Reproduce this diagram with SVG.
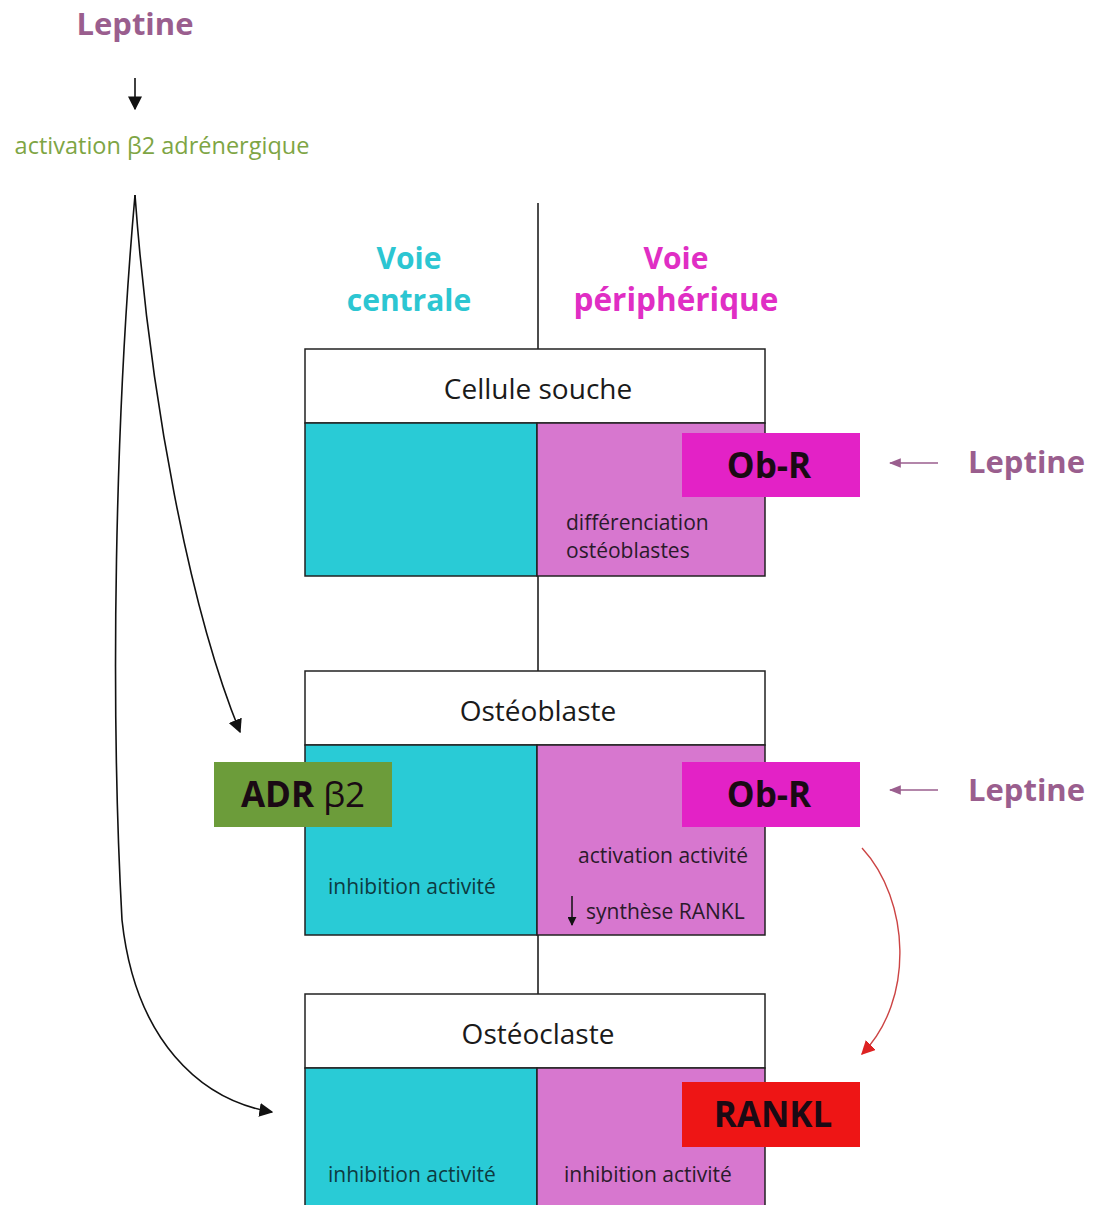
<svg xmlns="http://www.w3.org/2000/svg" width="1094" height="1205" viewBox="0 0 1094 1205">
<style>
text{font-family:"Open Sans","Noto Sans","Liberation Sans",sans-serif}
.hdr{fill:#fff;stroke:#222;stroke-width:1.5}
.cy{fill:#29cbd6;stroke:#222;stroke-width:1.5}
.pk{fill:#d777cf;stroke:#222;stroke-width:1.5}
.lbl{font-size:28px;fill:#1a1a1a;text-anchor:middle}
.sm{font-size:21px;fill:#2a1a2a}
.smc{font-size:21px;fill:#0d3a40}
.tag{font-size:35px;font-weight:bold;fill:#1a0a14;text-anchor:middle}
.lep{font-size:31px;font-weight:bold;fill:#9a5e8e}
.conn{fill:none;stroke:#111;stroke-width:1.6}
</style>
<defs>
<marker id="ah" viewBox="0 0 10 10" refX="9" refY="5" markerWidth="9" markerHeight="9" orient="auto" markerUnits="userSpaceOnUse"><path d="M0,0 L10,5 L0,10 z" fill="#111"/></marker>
<marker id="ahb" viewBox="0 0 10 10" refX="9" refY="5" markerWidth="14" markerHeight="14" orient="auto" markerUnits="userSpaceOnUse"><path d="M0,0 L10,5 L0,10 z" fill="#111"/></marker>
<marker id="ahr" viewBox="0 0 10 10" refX="9" refY="5" markerWidth="14" markerHeight="14" orient="auto" markerUnits="userSpaceOnUse"><path d="M0,0 L10,5 L0,10 z" fill="#dd2222"/></marker>
<marker id="ahm" viewBox="0 0 10 10" refX="9" refY="5" markerWidth="12" markerHeight="12" orient="auto" markerUnits="userSpaceOnUse"><path d="M0,1 L10,5 L0,9 z" fill="#9a5e8e"/></marker>
</defs>

<g id="connectors">
<line x1="538" y1="203" x2="538" y2="349" stroke="#111" stroke-width="1.5"/>
<line x1="538" y1="576" x2="538" y2="671" stroke="#111" stroke-width="1.5"/>
<line x1="538" y1="935" x2="538" y2="994" stroke="#111" stroke-width="1.5"/>
<line x1="135" y1="78" x2="135" y2="109" class="conn" marker-end="url(#ahb)"/>
<path d="M135,195 C150,400 190,610 240,732" class="conn" marker-end="url(#ahb)"/>
<path d="M135,195 C115,420 110,700 122,920 C135,1040 200,1100 272,1112" class="conn" marker-end="url(#ahb)"/>
<path d="M862,848 C910,900 915,1000 862,1054" fill="none" stroke="#c44" stroke-width="1.4" marker-end="url(#ahr)"/>
<line x1="938" y1="463" x2="890" y2="463" stroke="#9a5e8e" stroke-width="1.5" marker-end="url(#ahm)"/>
<line x1="938" y1="790" x2="890" y2="790" stroke="#9a5e8e" stroke-width="1.5" marker-end="url(#ahm)"/>
</g>

<g id="leptine-top"><text x="135" y="35" class="lep" text-anchor="middle">Leptine</text></g>
<g id="activation"><text x="162" y="154" font-size="23.5" fill="#7ea544" text-anchor="middle">activation β2 adrénergique</text></g>
<g id="voie-centrale"><text x="409" y="269" font-size="30" font-weight="bold" fill="#2cc6d2" text-anchor="middle">Voie</text><text x="409" y="311" font-size="30" font-weight="bold" fill="#2cc6d2" text-anchor="middle">centrale</text></g>
<g id="voie-peripherique"><text x="676" y="269" font-size="30" font-weight="bold" fill="#e02ec4" text-anchor="middle">Voie</text><text x="676" y="311" font-size="31.5" font-weight="bold" fill="#e02ec4" text-anchor="middle">périphérique</text></g>

<g id="cellule-souche">
<rect x="305" y="349" width="460" height="74" class="hdr"/>
<rect x="305" y="423" width="232" height="153" class="cy"/>
<rect x="537" y="423" width="228" height="153" class="pk"/>
<text x="538" y="399" class="lbl">Cellule souche</text>
<text x="566" y="530" class="sm">différenciation</text>
<text x="566" y="558" class="sm">ostéoblastes</text>
</g>
<g id="obr1"><rect x="682" y="433" width="178" height="64" fill="#e322c6"/><text x="769" y="478" class="tag">Ob-R</text></g>
<g id="leptine1"><text x="968" y="473" class="lep">Leptine</text></g>

<g id="osteoblaste">
<rect x="305" y="671" width="460" height="74" class="hdr"/>
<rect x="305" y="745" width="232" height="190" class="cy"/>
<rect x="537" y="745" width="228" height="190" class="pk"/>
<text x="538" y="721" class="lbl">Ostéoblaste</text>
<text x="328" y="894" class="smc">inhibition activité</text>
<text x="578" y="863" class="sm">activation activité</text>
<line x1="572" y1="896" x2="572" y2="925" stroke="#111" stroke-width="1.5" marker-end="url(#ah)"/>
<text x="586" y="919" class="sm">synthèse RANKL</text>
</g>
<g id="adrb2"><rect x="214" y="762" width="178" height="65" fill="#6c9c3a"/><text x="303" y="807" class="tag"><tspan>ADR</tspan><tspan font-weight="normal"> β2</tspan></text></g>
<g id="obr2"><rect x="682" y="762" width="178" height="65" fill="#e322c6"/><text x="769" y="807" class="tag">Ob-R</text></g>
<g id="leptine2"><text x="968" y="801" class="lep">Leptine</text></g>

<g id="osteoclaste">
<rect x="305" y="994" width="460" height="74" class="hdr"/>
<rect x="305" y="1068" width="232" height="150" class="cy"/>
<rect x="537" y="1068" width="228" height="150" class="pk"/>
<text x="538" y="1044" class="lbl">Ostéoclaste</text>
<text x="328" y="1182" class="smc">inhibition activité</text>
<text x="564" y="1182" class="sm">inhibition activité</text>
</g>
<g id="rankl"><rect x="682" y="1082" width="178" height="65" fill="#ee1515"/><text x="773" y="1127" class="tag">RANKL</text></g>
</svg>
